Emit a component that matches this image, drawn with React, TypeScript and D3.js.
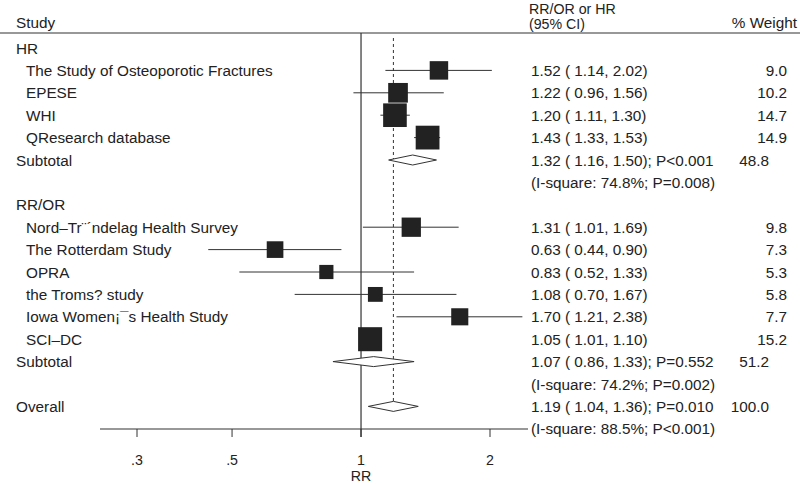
import React from "react";
import * as d3 from "d3";

const groupLabels = ["HR", "RR/OR"];
const studyNames = [
  "The Study of Osteoporotic Fractures",
  "EPESE",
  "WHI",
  "QResearch database",
  "Nord\u2013Tr\u00a8\u00b4ndelag Health Survey",
  "The Rotterdam Study",
  "OPRA",
  "the Troms? study",
  "Iowa Women\u00a1\u00afs Health Study",
  "SCI\u2013DC",
];
const studyGroup = [0, 0, 0, 0, 1, 1, 1, 1, 1, 1];
const studyEst = [1.52, 1.22, 1.2, 1.43, 1.31, 0.63, 0.83, 1.08, 1.7, 1.05];
const studyLo = [1.14, 0.96, 1.11, 1.33, 1.01, 0.44, 0.52, 0.7, 1.21, 1.01];
const studyHi = [2.02, 1.56, 1.3, 1.53, 1.69, 0.9, 1.33, 1.67, 2.38, 1.1];
const studyWeight = [9.0, 10.2, 14.7, 14.9, 9.8, 7.3, 5.3, 5.8, 7.7, 15.2];

const subEst = [1.32, 1.07];
const subLo = [1.16, 0.86];
const subHi = [1.5, 1.33];
const subP = ["P<0.001", "P=0.552"];
const subI2 = ["74.8%", "74.2%"];
const subI2P = ["P=0.008", "P=0.002"];
const subWeight = [48.8, 51.2];

const overallEst = 1.19;
const overallLo = 1.04;
const overallHi = 1.36;
const overallP = "P=0.010";
const overallI2 = "88.5%";
const overallI2P = "P<0.001";
const overallWeight = 100.0;

const tickValues = [0.3, 0.5, 1, 2];
const tickLabels = [".3", ".5", "1", "2"];

const W = 800;
const H = 484;
const FONT = "'Liberation Sans', Arial, Helvetica, sans-serif";
const TXT = "#222";
const LINE = "#333";

export default function App() {
  const x = d3.scaleLog().domain([0.3, 2]).range([137, 490]);
  const axisLeft = 100;
  const axisRight = 528;
  const row0 = 48;
  const step = 22.4;
  const rowY = (i: number) => row0 + step * i;
  const axisY = 429;
  const f2 = d3.format(".2f");
  const f1 = d3.format(".1f");
  const ci = (e: number, l: number, h: number) => `${f2(e)} ( ${f2(l)}, ${f2(h)})`;
  const boxSide = (w: number) => 6.16 * Math.sqrt(w);

  type Row =
    | { kind: "group"; label: string }
    | { kind: "study"; i: number }
    | { kind: "sub"; g: number }
    | { kind: "isq"; text: string }
    | { kind: "overall" };

  const rows: Row[] = [];
  groupLabels.forEach((gl, g) => {
    rows.push({ kind: "group", label: gl });
    studyNames.forEach((_, i) => {
      if (studyGroup[i] === g) rows.push({ kind: "study", i });
    });
    rows.push({ kind: "sub", g });
    rows.push({ kind: "isq", text: `(I-square: ${subI2[g]}; ${subI2P[g]})` });
  });
  rows.push({ kind: "overall" });
  rows.push({ kind: "isq", text: `(I-square: ${overallI2}; ${overallI2P})` });

  const ciX = 531;
  const wRight = 787;
  const subWRight = 769;
  const dh = 5;

  const diamond = (y: number, e: number, l: number, h: number) =>
    `M${x(l)},${y} L${x(e)},${y - dh} L${x(h)},${y} L${x(e)},${y + dh} Z`;

  const overallRowIdx = rows.findIndex((r) => r.kind === "overall");

  return (
    <svg
      width={W}
      height={H}
      style={{ position: "absolute", left: 0, top: 0, background: "#fff" }}
      fontFamily={FONT}
      fontSize={15.3}
    >
      <rect width={W} height={H} fill="#fff" />
      {/* header */}
      <text x={16} y={22} dominantBaseline="central" fill={TXT}>Study</text>
      <text x={529} y={8.5} fontSize={14.2} dominantBaseline="central" fill={TXT}>RR/OR or HR</text>
      <text x={529} y={24} fontSize={14.2} dominantBaseline="central" fill={TXT}>(95% CI)</text>
      <text x={797} y={22} dominantBaseline="central" textAnchor="end" fill={TXT}>% Weight</text>
      <line x1={0} x2={W} y1={33} y2={33} stroke={LINE} strokeWidth={1.2} />

      {/* null line */}
      <line x1={x(1)} x2={x(1)} y1={33} y2={axisY + 8} stroke={LINE} strokeWidth={1.2} />
      {/* overall dashed line */}
      <line
        x1={x(overallEst)}
        x2={x(overallEst)}
        y1={38}
        y2={rowY(overallRowIdx) + dh}
        stroke={LINE}
        strokeWidth={1}
        strokeDasharray="3,3"
      />

      {rows.map((r, k) => {
        const y = rowY(k);
        if (r.kind === "group") {
          return (
            <text key={k} x={16} y={y} dominantBaseline="central" fill={TXT}>{r.label}</text>
          );
        }
        if (r.kind === "study") {
          const i = r.i;
          const s = boxSide(studyWeight[i]);
          return (
            <g key={k}>
              <text x={26} y={y} dominantBaseline="central" fill={TXT}>{studyNames[i]}</text>
              <line x1={x(studyLo[i])} x2={x(studyHi[i])} y1={y} y2={y} stroke={LINE} strokeWidth={1} />
              <rect x={x(studyEst[i]) - s / 2} y={y - s / 2} width={s} height={s} fill="#222" />
              <text x={ciX} y={y} dominantBaseline="central" fill={TXT}>{ci(studyEst[i], studyLo[i], studyHi[i])}</text>
              <text x={wRight} y={y} dominantBaseline="central" textAnchor="end" fill={TXT}>{f1(studyWeight[i])}</text>
            </g>
          );
        }
        if (r.kind === "sub") {
          const g = r.g;
          return (
            <g key={k}>
              <text x={16} y={y} dominantBaseline="central" fill={TXT}>Subtotal</text>
              <path d={diamond(y, subEst[g], subLo[g], subHi[g])} fill="#fff" stroke={LINE} strokeWidth={1} />
              <text x={ciX} y={y} dominantBaseline="central" fill={TXT}>{`${ci(subEst[g], subLo[g], subHi[g])}; ${subP[g]}`}</text>
              <text x={subWRight} y={y} dominantBaseline="central" textAnchor="end" fill={TXT}>{f1(subWeight[g])}</text>
            </g>
          );
        }
        if (r.kind === "isq") {
          return (
            <text key={k} x={ciX} y={y} dominantBaseline="central" fill={TXT}>{r.text}</text>
          );
        }
        return (
          <g key={k}>
            <text x={16} y={y} dominantBaseline="central" fill={TXT}>Overall</text>
            <path d={diamond(y, overallEst, overallLo, overallHi)} fill="#fff" stroke={LINE} strokeWidth={1} />
            <text x={ciX} y={y} dominantBaseline="central" fill={TXT}>{`${ci(overallEst, overallLo, overallHi)}; ${overallP}`}</text>
            <text x={subWRight} y={y} dominantBaseline="central" textAnchor="end" fill={TXT}>{f1(overallWeight)}</text>
          </g>
        );
      })}

      {/* axis */}
      <line x1={axisLeft} x2={axisRight} y1={axisY} y2={axisY} stroke={LINE} strokeWidth={1.2} />
      {tickValues.map((t, i) => (
        <g key={t}>
          <line x1={x(t)} x2={x(t)} y1={axisY} y2={axisY + 8} stroke={LINE} strokeWidth={1} />
          <text x={x(t)} y={459.5} fontSize={14.2} textAnchor="middle" dominantBaseline="central" fill={TXT}>{tickLabels[i]}</text>
        </g>
      ))}
      <text x={x(1)} y={475.5} fontSize={14.2} textAnchor="middle" dominantBaseline="central" fill={TXT}>RR</text>
    </svg>
  );
}
